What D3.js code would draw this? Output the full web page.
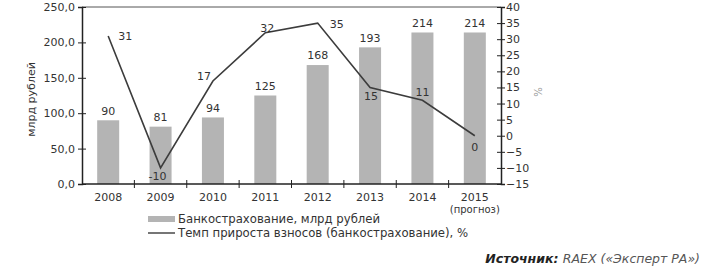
<!DOCTYPE html>
<html>
<head>
<meta charset="utf-8">
<script src="https://cdn.jsdelivr.net/npm/d3@7"></script>
<style>
  body { margin: 0; background: #fff; }
  text { font-family: "DejaVu Sans", sans-serif; fill: #333; }
</style>
</head>
<body>
<div id="chart"></div>
<script>
var years = ["2008", "2009", "2010", "2011", "2012", "2013", "2014", "2015"];
var yearNotes = ["", "", "", "", "", "", "", "(прогноз)"];
var premiums = [90, 81, 94, 125, 168, 193, 214, 214];   // млрд рублей
var growth = [31, -10, 17, 32, 35, 15, 11, 0];           // %
var leftTicks = [0, 50, 100, 150, 200, 250];
var rightTicks = [-15, -10, -5, 0, 5, 10, 15, 20, 25, 30, 35, 40];

var barName = "Банкострахование, млрд рублей";
var lineName = "Темп прироста взносов (банкострахование), %";

var width = 713, height = 274;
var plotL = 82, plotR = 501, plotT = 7, plotB = 184;

var svg = d3.select("#chart").append("svg")
  .attr("width", width)
  .attr("height", height);

var x = d3.scaleBand().domain(years).range([plotL, plotR]).paddingInner(0.58).paddingOuter(0.29);
var xc = function(d){ return x(d) + x.bandwidth() / 2; };
var yL = d3.scaleLinear().domain([0, 250]).range([plotB, plotT]);
var yR = d3.scaleLinear().domain([-15, 40]).range([plotB, plotT]);

// frame top
svg.append("line")
  .attr("x1", plotL).attr("x2", plotR)
  .attr("y1", plotT).attr("y2", plotT)
  .style("stroke", "#555").style("stroke-width", 1);

// bars
svg.append("g").selectAll("rect").data(premiums).enter().append("rect")
  .attr("x", function(d, i){ return x(years[i]); })
  .attr("y", function(d){ return yL(d); })
  .attr("width", x.bandwidth())
  .attr("height", function(d){ return plotB - yL(d); })
  .attr("fill", "#b4b4b4");

svg.append("g").selectAll("text").data(premiums).enter().append("text")
  .attr("x", function(d, i){ return xc(years[i]); })
  .attr("y", function(d){ return yL(d) - 9.5; })
  .attr("dy", "0.35em")
  .attr("text-anchor", "middle")
  .style("font-size", "11px")
  .text(function(d){ return d; });

// left axis
var axL = svg.append("g")
  .attr("transform", "translate(" + plotL + ",0)")
  .call(d3.axisLeft(yL).tickValues(leftTicks).tickSize(4)
    .tickFormat(function(d){ return d3.format(".1f")(d).replace(".", ","); }));
axL.select(".domain").style("stroke", "#222").style("stroke-width", 1.5);
axL.selectAll(".tick line").attr("x1", -4).attr("x2", 4).style("stroke", "#222");
axL.selectAll(".tick text").attr("x", -7).style("font-size", "11px").style("font-family", "DejaVu Sans");

// right axis
var axR = svg.append("g")
  .attr("transform", "translate(" + plotR + ",0)")
  .call(d3.axisRight(yR).tickValues(rightTicks).tickSize(4));
axR.select(".domain").style("stroke", "#222").style("stroke-width", 1.5);
axR.selectAll(".tick line").attr("x1", -4).attr("x2", 4).style("stroke", "#222");
axR.selectAll(".tick text").attr("x", 5).style("font-size", "11px").style("font-family", "DejaVu Sans");

// x axis
var axX = svg.append("g")
  .attr("transform", "translate(0," + plotB + ")");
axX.append("line")
  .attr("x1", plotL).attr("x2", plotR)
  .style("stroke", "#222").style("stroke-width", 1.5);
axX.selectAll("line.sep").data(years.slice(1)).enter().append("line")
  .attr("class", "sep")
  .attr("x1", function(d){ return x(d) - x.step() * 0.29; })
  .attr("x2", function(d){ return x(d) - x.step() * 0.29; })
  .attr("y1", -4).attr("y2", 4)
  .style("stroke", "#222");
axX.selectAll("text.year").data(years).enter().append("text")
  .attr("class", "year")
  .attr("x", function(d){ return xc(d); })
  .attr("y", 17)
  .attr("text-anchor", "middle")
  .style("font-size", "11px")
  .text(function(d){ return d; });
axX.selectAll("text.note").data(yearNotes).enter().append("text")
  .attr("class", "note")
  .attr("x", function(d, i){ return xc(years[i]); })
  .attr("y", 29)
  .attr("text-anchor", "middle")
  .style("font-size", "10px")
  .text(function(d){ return d; });

// axis titles
svg.append("text")
  .attr("transform", "translate(35," + ((plotT + plotB) / 2 + 4) + ") rotate(-90)")
  .attr("text-anchor", "middle")
  .style("font-size", "11px")
  .text("млрд рублей");
svg.append("text")
  .attr("transform", "translate(534,92) rotate(90)")
  .attr("text-anchor", "middle")
  .style("font-size", "10px")
  .style("fill", "#999")
  .text("%");

// growth line
var line = d3.line()
  .x(function(d, i){ return xc(years[i]); })
  .y(function(d){ return yR(d); });
svg.append("path")
  .datum(growth)
  .attr("d", line)
  .attr("fill", "none")
  .style("stroke", "#3c3c3c")
  .style("stroke-width", 1.6);

// label placement around the points
var labelShift = [[17, 0], [-3, 8], [-9, -5], [2, -5], [19, 1], [1, 9], [0, -8], [0, 11]];
svg.append("g").selectAll("text").data(growth).enter().append("text")
  .attr("x", function(d, i){ return xc(years[i]) + labelShift[i][0]; })
  .attr("y", function(d, i){ return yR(d) + labelShift[i][1]; })
  .attr("dy", "0.35em")
  .attr("text-anchor", "middle")
  .style("font-size", "11px")
  .text(function(d){ return d; });

// legend
var lg = svg.append("g").attr("transform", "translate(148,219)");
lg.append("rect").attr("x", 0).attr("y", -3).attr("width", 27).attr("height", 6).attr("fill", "#b4b4b4");
lg.append("text").attr("x", 30).attr("y", 0).attr("dy", "0.35em").style("font-size", "11.7px").text(barName);
lg.append("line").attr("x1", 0).attr("x2", 27).attr("y1", 14).attr("y2", 14)
  .style("stroke", "#3c3c3c").style("stroke-width", 1.4);
lg.append("text").attr("x", 30).attr("y", 14).attr("dy", "0.35em").style("font-size", "11.7px").text(lineName);

// source
var src = svg.append("text")
  .attr("x", 700).attr("y", 263)
  .attr("text-anchor", "end")
  .style("font-size", "12.5px")
  .style("font-style", "italic");
src.append("tspan").style("font-weight", "bold").style("fill", "#222").text("Источник: ");
src.append("tspan").style("fill", "#555").text("RAEX («Эксперт РА»)");
</script>
</body>
</html>
